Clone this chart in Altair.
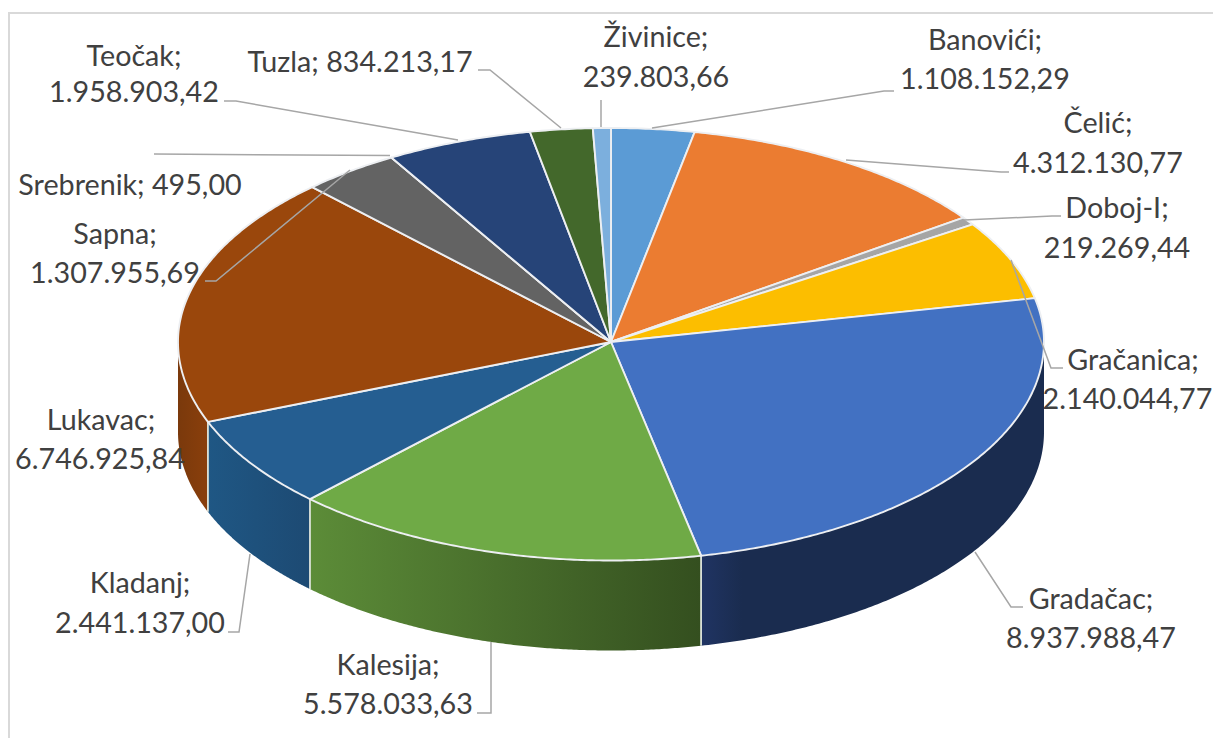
import numpy as np
import pandas as pd
import altair as alt

names = ["Banovići", "Čelić", "Doboj-I", "Gračanica", "Gradačac", "Kalesija", "Kladanj",
         "Lukavac", "Sapna", "Srebrenik", "Teočak", "Tuzla", "Živinice"]
values = [1108152.29, 4312130.77, 219269.44, 2140044.77, 8937988.47, 5578033.63, 2441137.00,
          6746925.84, 1307955.69, 495.00, 1958903.42, 834213.17, 239803.66]
top_colors = ["#5B9BD5", "#EB7C31", "#A5A5A5", "#FCBE00", "#4271C2", "#6FAA46", "#255E91",
              "#9A470C", "#636363", "#997300", "#264478", "#43682B", "#7CAFDD"]
side_colors = {
    "Gradačac": [("#203463", 0), ("#1A2C4F", 0.12), ("#1A2C4F", 1)],
    "Kalesija": [("#5C8C38", 0), ("#344F1F", 1)],
    "Kladanj": [("#1F5784", 0), ("#1D4A73", 1)],
    "Lukavac": [("#7A390C", 0), ("#8A3F0C", 1)],
}

label_lines = {
    "Banovići": [("Banovići;", 985, 39), ("1.108.152,29", 985, 78)],
    "Čelić": [("Čelić;", 1098, 122), ("4.312.130,77", 1098, 162)],
    "Doboj-I": [("Doboj-I;", 1117, 207), ("219.269,44", 1117, 247)],
    "Gračanica": [("Gračanica;", 1133, 359), ("2.140.044,77", 1127.5, 398)],
    "Gradačac": [("Gradačac;", 1091, 598), ("8.937.988,47", 1091, 637)],
    "Kalesija": [("Kalesija;", 388, 664), ("5.578.033,63", 388, 703)],
    "Kladanj": [("Kladanj;", 140, 582), ("2.441.137,00", 140, 622)],
    "Lukavac": [("Lukavac;", 101, 419), ("6.746.925,84", 100, 458)],
    "Sapna": [("Sapna;", 115, 233), ("1.307.955,69", 115, 272)],
    "Srebrenik": [("Srebrenik; 495,00", 130, 184)],
    "Teočak": [("Teočak;", 134, 55), ("1.958.903,42", 134, 91)],
    "Tuzla": [("Tuzla; 834.213,17", 360, 61)],
    "Živinice": [("Živinice;", 656, 36), ("239.803,66", 656, 76)],
}
leaders = {
    "Živinice": [(601, 100), (601, 127)],
    "Banovići": [(894, 91), (884, 91), (652, 128)],
    "Čelić": [(1009, 172), (1001, 172), (846, 160)],
    "Doboj-I": [(1061, 216), (1052, 216), (964, 220)],
    "Gračanica": [(1063, 368), (1051, 368), (1011, 260)],
    "Gradačac": [(1023, 607), (1011, 607), (975, 552)],
    "Kalesija": [(477, 713), (491, 713), (491, 642)],
    "Kladanj": [(228, 632), (239, 632), (250, 554)],
    "Sapna": [(205, 281), (216, 281), (350, 170)],
    "Srebrenik": [(154, 154), (390, 155.5)],
    "Teočak": [(224, 101), (236, 101), (458, 140)],
    "Tuzla": [(478, 70), (490, 70), (561, 128)],
}
border_x = [9, 9, 1213]
border_y = [738, 13, 13]

CX, CY, RX, RY_BACK, RY_FRONT, DEPTH = 611.0, 342.0, 433.0, 214.0, 218.5, 90.0

X = alt.X("x:Q", scale=alt.Scale(domain=[8, 1213]), axis=None)
Y = alt.Y("y:Q", scale=alt.Scale(domain=[738, 8]), axis=None)

cum = np.cumsum([0] + values) / float(np.sum(values)) * 2 * np.pi


def ex(t):
    return CX + RX * np.sin(t)


def ey(t):
    c = np.cos(t)
    return CY - np.where(c > 0, RY_BACK, RY_FRONT) * c


layers = []

# outer side walls (front half of the cylinder)
for i, n in enumerate(names):
    lo, hi = max(cum[i], np.pi / 2), min(cum[i + 1], 3 * np.pi / 2)
    if hi <= lo or n not in side_colors:
        continue
    t = np.linspace(lo, hi, 160)
    d = pd.DataFrame({"x": ex(t), "y": ey(t), "y2": ey(t) + DEPTH}).sort_values("x")
    grad = alt.Gradient(gradient="linear", x1=0, x2=1, y1=0, y2=0,
                        stops=[alt.GradientStop(color=c, offset=o) for c, o in side_colors[n]])
    layers.append(alt.Chart(d).mark_area(fill=grad, interpolate="linear").encode(
        x=X, y=Y, y2=alt.Y2("y2:Q")))

# vertical seams between the side walls
seam_t = np.array([c for c in cum[1:-1] if np.pi / 2 < c < 3 * np.pi / 2])
seams = pd.DataFrame({"x": ex(seam_t), "y": ey(seam_t), "y2": ey(seam_t) + DEPTH})
layers.append(alt.Chart(seams).mark_rule(color="#DDE3DA", strokeWidth=1.8).encode(
    x=X, y=Y, y2=alt.Y2("y2:Q")))

# top face wedges
for i, n in enumerate(names):
    steps = max(3, int((cum[i + 1] - cum[i]) * 120))
    t = np.linspace(cum[i], cum[i + 1], steps)
    xs = np.concatenate([[CX], ex(t), [CX]])
    ys = np.concatenate([[CY], ey(t), [CY]])
    d = pd.DataFrame({"x": xs, "y": ys, "i": np.arange(len(xs))})
    layers.append(alt.Chart(d).mark_line(
        filled=True, fill=top_colors[i], stroke="#EDEFF2", strokeWidth=1.9,
        strokeJoin="round", interpolate="linear"
    ).encode(x=X, y=Y, order=alt.Order("i:Q")))

# leader lines
rows = []
for n, pts in leaders.items():
    for j, (px, py) in enumerate(pts):
        rows.append({"name": n, "x": px, "y": py, "i": j})
layers.append(alt.Chart(pd.DataFrame(rows)).mark_line(color="#A6A6A6", strokeWidth=1.5).encode(
    x=X, y=Y, detail="name:N", order=alt.Order("i:Q")))

# chart border (top and left edges)
bd = pd.DataFrame({"x": border_x, "y": border_y, "i": range(len(border_x))})
layers.append(alt.Chart(bd).mark_line(color="#D9D9D9", strokeWidth=2).encode(
    x=X, y=Y, order=alt.Order("i:Q")))

# labels
rows = []
for n, lines in label_lines.items():
    for txt, px, py in lines:
        rows.append({"text": txt, "x": px, "y": py})
layers.append(alt.Chart(pd.DataFrame(rows)).mark_text(
    font="Lato", fontSize=28.7, color="#404040", align="center", baseline="middle", dy=2
).encode(x=X, y=Y, text="text:N"))

chart = alt.layer(*layers).properties(
    width=1205, height=730, padding=0, autosize=alt.AutoSizeParams(type="none"),
    background="white"
).configure_view(stroke=None)

chart.save("out.html", embed_options={"renderer": "svg", "actions": False})
